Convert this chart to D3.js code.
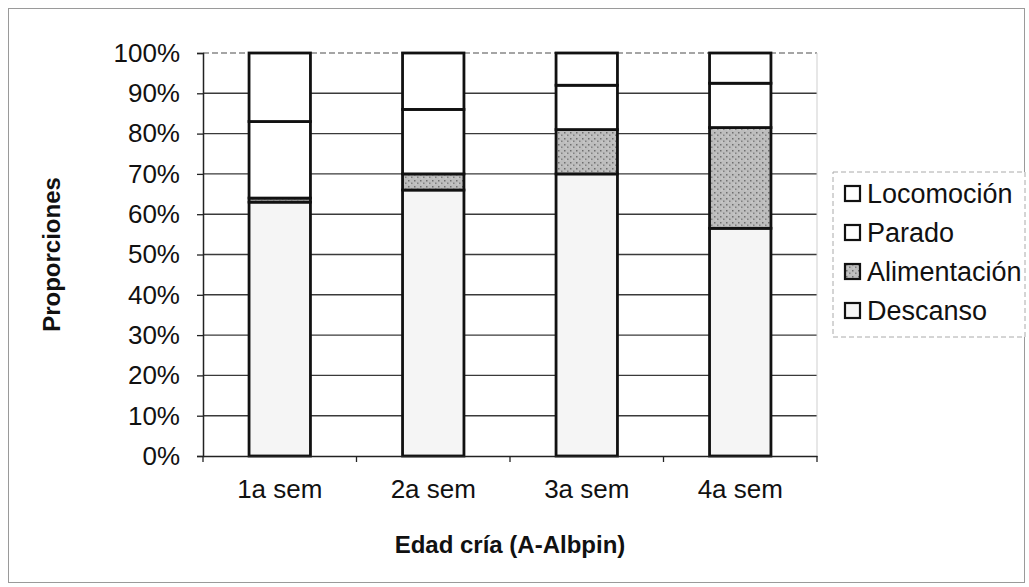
<!DOCTYPE html>
<html>
<head>
<meta charset="utf-8">
<script src="https://cdn.jsdelivr.net/npm/d3@7"></script>
<style>
  body { margin: 0; background: #fff; }
  svg { display: block; font-family: "Liberation Sans", Arial, sans-serif; }
</style>
</head>
<body>
<script>
// chart data
var categories = ["1a sem", "2a sem", "3a sem", "4a sem"];
var seriesNames = ["Descanso", "Alimentación", "Parado", "Locomoción"];
var descanso = [63, 66, 70, 56.5];
var alimentacion = [1, 4, 11, 25];
var parado = [19, 16, 11, 11];
var locomocion = [17, 14, 8, 7.5];
var yTicks = [0, 10, 20, 30, 40, 50, 60, 70, 80, 90, 100];

var W = 1029, H = 587;
var margin = {top: 53, right: 212, bottom: 131, left: 203},
    width = W - margin.left - margin.right,
    height = H - margin.top - margin.bottom;

var rows = categories.map(function (c, i) {
    return {cat: c, "Descanso": descanso[i], "Alimentación": alimentacion[i],
            "Parado": parado[i], "Locomoción": locomocion[i]};
});
var stacked = d3.stack().keys(seriesNames)(rows);

var fills = {
    "Descanso": "#f5f5f5",
    "Alimentación": "url(#stipple)",
    "Parado": "#ffffff",
    "Locomoción": "#ffffff"
};

var svg = d3.select("body").append("svg")
    .attr("width", W)
    .attr("height", H);

// grey stipple used for the Alimentación segments
var pat = svg.append("defs").append("pattern")
    .attr("id", "stipple")
    .attr("patternUnits", "userSpaceOnUse")
    .attr("width", 6).attr("height", 6);
pat.append("rect").attr("width", 6).attr("height", 6).attr("fill", "#bdbdbd");
pat.append("rect").attr("x", 1).attr("y", 1).attr("width", 1.5).attr("height", 1.5).attr("fill", "#6f6f6f");
pat.append("rect").attr("x", 4).attr("y", 3.5).attr("width", 1.5).attr("height", 1.5).attr("fill", "#808080");
pat.append("rect").attr("x", 2.5).attr("y", 4.5).attr("width", 1).attr("height", 1).attr("fill", "#dedede");

// faint frame of the chart area
svg.append("rect")
    .attr("x", 8.5).attr("y", 8.5)
    .attr("width", W - 13).attr("height", H - 13)
    .attr("fill", "none")
    .attr("stroke", "#9a9a9a")
    .attr("stroke-width", 1);

var g = svg.append("g")
    .attr("transform", "translate(" + margin.left + "," + margin.top + ")");

var x = d3.scaleBand()
    .domain(categories)
    .range([0, width])
    .paddingInner(0.6)
    .paddingOuter(0.3);

var y = d3.scaleLinear()
    .domain([0, 100])
    .range([height, 0]);

// gridlines
g.append("g")
    .attr("class", "grid")
    .selectAll("line")
    .data(yTicks.slice(1))
    .enter().append("line")
    .attr("x1", 0).attr("x2", width)
    .attr("y1", function (d) { return y(d); })
    .attr("y2", function (d) { return y(d); })
    .attr("stroke", function (d) { return d === 100 ? "#888" : "#3a3a3a"; })
    .attr("stroke-width", 1.4)
    .attr("stroke-dasharray", function (d) { return d === 100 ? "6,3" : null; });

// right edge of plot area (faint)
g.append("line")
    .attr("x1", width).attr("x2", width)
    .attr("y1", 0).attr("y2", height)
    .attr("stroke", "#cfcfcf");

// bars
var layer = g.selectAll("g.layer")
    .data(stacked)
    .enter().append("g")
    .attr("class", "layer")
    .attr("fill", function (d) { return fills[d.key]; });

layer.selectAll("rect")
    .data(function (d) { return d; })
    .enter().append("rect")
    .attr("x", function (d) { return x(d.data.cat); })
    .attr("width", x.bandwidth())
    .attr("y", function (d) { return y(d[1]); })
    .attr("height", function (d) { return y(d[0]) - y(d[1]); })
    .attr("stroke", "#111")
    .attr("stroke-width", 2.8);

// y axis
var yAxis = d3.axisLeft(y)
    .tickValues(yTicks)
    .tickSize(6)
    .tickPadding(17)
    .tickFormat(function (d) { return d + "%"; });

var yg = g.append("g").attr("class", "y axis").call(yAxis);
yg.select(".domain").attr("stroke", "#222").attr("stroke-width", 1.5);
yg.selectAll(".tick line").attr("stroke", "#222").attr("stroke-width", 1.3);
yg.selectAll(".tick text")
    .attr("fill", "#111")
    .style("font-size", "26px");

// x axis: Excel puts the tick marks between categories
var xAxis = d3.axisBottom(x).tickSize(0).tickPadding(24);
var xg = g.append("g").attr("class", "x axis")
    .attr("transform", "translate(0," + height + ")")
    .call(xAxis);
xg.select(".domain").attr("stroke", "#222").attr("stroke-width", 1.5);
xg.selectAll(".tick text")
    .attr("fill", "#111")
    .style("font-size", "26px");

xg.selectAll("line.sep")
    .data(d3.range(categories.length + 1))
    .enter().append("line")
    .attr("class", "sep")
    .attr("x1", function (i) { return i * x.step(); })
    .attr("x2", function (i) { return i * x.step(); })
    .attr("y1", 0).attr("y2", 6)
    .attr("stroke", "#222")
    .attr("stroke-width", 1.3);

// axis titles
svg.append("text")
    .attr("x", margin.left + width / 2)
    .attr("y", 553)
    .attr("text-anchor", "middle")
    .style("font-size", "24px")
    .style("font-weight", "bold")
    .attr("fill", "#111")
    .text("Edad cría (A-Albpin)");

svg.append("text")
    .attr("transform", "translate(60," + (margin.top + height / 2) + ") rotate(-90)")
    .attr("text-anchor", "middle")
    .style("font-size", "24px")
    .style("font-weight", "bold")
    .attr("fill", "#111")
    .text("Proporciones");

// legend
var legendItems = seriesNames.slice().reverse();
var lg = svg.append("g").attr("class", "legend")
    .attr("transform", "translate(833,172)");

lg.append("rect")
    .attr("width", 192).attr("height", 165)
    .attr("fill", "#fff")
    .attr("stroke", "#aaa")
    .attr("stroke-width", 1)
    .attr("stroke-dasharray", "5,3");

var item = lg.selectAll("g.item")
    .data(legendItems)
    .enter().append("g")
    .attr("class", "item")
    .attr("transform", function (d, i) { return "translate(12," + (31 + i * 39) + ")"; });

item.append("rect")
    .attr("x", 0).attr("y", -17)
    .attr("width", 15).attr("height", 15)
    .attr("fill", function (d) { return fills[d]; })
    .attr("stroke", "#111")
    .attr("stroke-width", 2.2);

item.append("text")
    .attr("x", 22)
    .attr("y", 0)
    .style("font-size", "27px")
    .attr("fill", "#111")
    .text(function (d) { return d; });
</script>
</body>
</html>
